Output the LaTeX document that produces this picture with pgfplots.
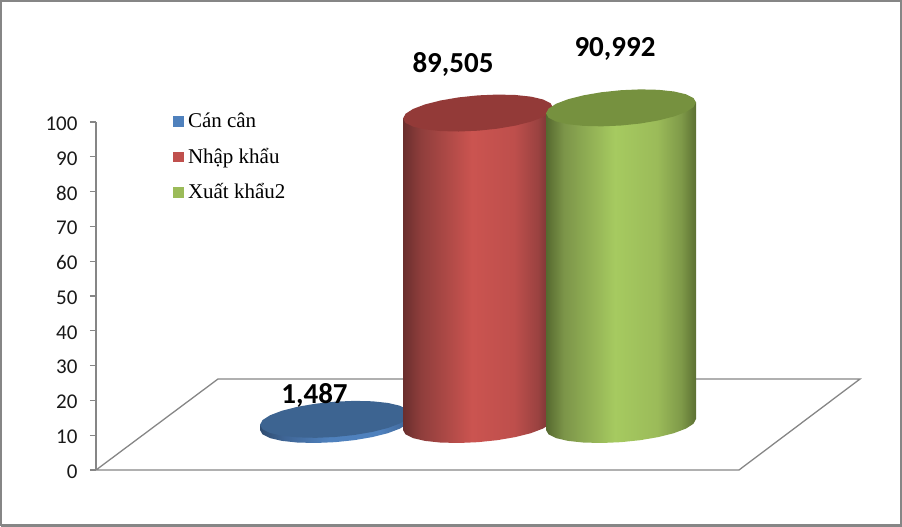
\documentclass[border=0pt]{standalone}
\usepackage{fontspec}
\usepackage{pgfplots}
\usepackage{pgfplotstable}
\pgfplotsset{compat=1.18}
\setmainfont{Carlito}
\newfontfamily\legendfont{Liberation Serif}

\definecolor{axisgray}{HTML}{868686}
\definecolor{bluetop}{HTML}{3D6491}
\definecolor{redtop}{HTML}{933A38}
\definecolor{greentop}{HTML}{76913F}
\definecolor{blue1}{HTML}{2F4C70}
\definecolor{blue2}{HTML}{3F6595}
\definecolor{blue3}{HTML}{4F81BD}
\definecolor{red1}{HTML}{6A2E2D}
\definecolor{red2}{HTML}{8F3E3C}
\definecolor{red3}{HTML}{CB5450}
\definecolor{red4}{HTML}{BE4F4C}
\definecolor{red5}{HTML}{9A4240}
\definecolor{red6}{HTML}{6E3130}
\definecolor{green1}{HTML}{56692F}
\definecolor{green2}{HTML}{7C9549}
\definecolor{green3}{HTML}{A6CA60}
\definecolor{green4}{HTML}{9BBB59}
\definecolor{green5}{HTML}{7F9A49}
\definecolor{green6}{HTML}{5C7032}
\definecolor{legblue}{HTML}{4F81BD}
\definecolor{legred}{HTML}{C0504D}
\definecolor{leggreen}{HTML}{9BBB59}

% 25bp..75bp of a pgf shading spans the path's bounding box
\pgfdeclarehorizontalshading{bluecyl}{100bp}{
  color(0bp)=(blue1); color(25bp)=(blue1); color(33bp)=(blue2);
  color(48bp)=(blue3); color(65bp)=(blue3); color(75bp)=(blue2); color(100bp)=(blue2)}
\pgfdeclarehorizontalshading{redcyl}{100bp}{
  color(0bp)=(red1); color(25bp)=(red1); color(31bp)=(red2);
  color(48bp)=(red3); color(62bp)=(red4); color(70bp)=(red5); color(75bp)=(red6); color(100bp)=(red6)}
\pgfdeclarehorizontalshading{greencyl}{100bp}{
  color(0bp)=(green1); color(25bp)=(green1); color(31bp)=(green2);
  color(48bp)=(green3); color(62bp)=(green4); color(70bp)=(green5); color(75bp)=(green6); color(100bp)=(green6)}

% end of a cylinder, offsets in pixels from its centre
\pgfplotstableread{
dx dy
75 5.5
72.44 9.88
64.95 13.59
53.03 16.38
37.5 18.04
19.41 18.48
0 17.66
-19.41 15.64
-37.5 12.54
-53.03 8.6
-64.95 4.07
-72.44 -0.74
-75 -5.5
-72.44 -9.88
-64.95 -13.59
-53.03 -16.38
-37.5 -18.04
-19.41 -18.48
0 -17.66
19.41 -15.64
37.5 -12.54
53.03 -8.6
64.95 -4.07
72.44 0.74
75 5.5
}\endcap

% side of a cylinder, h=1 marks the points at the top
\pgfplotstableread{
dx dy h
75 5.5 0
72.44 0.74 0
64.95 -4.07 0
53.03 -8.6 0
37.5 -12.54 0
19.41 -15.64 0
0 -17.66 0
-19.41 -18.48 0
-37.5 -18.04 0
-53.03 -16.38 0
-64.95 -13.59 0
-72.44 -9.88 0
-75 -5.5 0
-75 -5.5 1
75 5.5 1
}\sidewall

% centre x, value, shading, colour of the top
\newcommand{\cylinder}[4]{
  \addplot[forget plot, draw=none, shade, shading=#3]
    table[x expr=\thisrow{dx}+#1, y expr=13.07+\thisrow{h}*#2+\thisrow{dy}/3.48] {\sidewall};
  \addplot[forget plot, draw=none, fill=#4]
    table[x expr=\thisrow{dx}+#1, y expr=13.07+#2+\thisrow{dy}/3.48] {\endcap};
}

\begin{document}
\begin{tikzpicture}
\begin{axis}[
  scale only axis, width=764pt, height=348pt,
  xmin=96, xmax=860, ymin=0, ymax=100,
  clip=false,
  axis x line=none, axis y line*=left,
  y axis line style={axisgray, line width=1.4pt, -},
  ytick={0,10,...,100},
  tick align=outside, major tick length=6pt,
  tick style={axisgray, line width=1.2pt},
  /pgf/number format/assume math mode=true,
  yticklabel style={font=\fontsize{21}{24}\selectfont, color=black!90, xshift=-9pt, yshift=-1.5pt},
  legend style={
    draw=none, fill=none, at={(axis cs:173,102.3)}, anchor=north west,
    inner sep=0pt, outer sep=0pt, row sep=16.5pt,
    font=\legendfont\fontsize{21}{24}\selectfont,
    nodes={text height=14pt, text depth=5pt, inner sep=0pt},
    cells={anchor=west},
  },
  legend image code/.code={
    \path[draw=none, fill=none] (0pt,0pt) -- (15pt,0pt);
    \fill[#1, draw=none] (0pt,-3.4pt) rectangle (11pt,7pt);
  },
]
\addlegendimage{fill=legblue}
\addlegendentry{Cán cân}
\addlegendimage{fill=legred}
\addlegendentry{Nhập khẩu}
\addlegendimage{fill=leggreen}
\addlegendentry{Xuất khẩu2}

% chart frame
\addplot[forget plot, draw=axisgray, line width=2.5pt] coordinates {
  (1.25,-16.02) (900.75,-16.02) (900.75,134.70) (1.25,134.70) (1.25,-16.02)
};

% floor
\addplot[forget plot, draw=axisgray, line width=1.3pt] coordinates {
  (96,0) (218,26.15) (860,26.15) (739,0) (96,0)
};

\cylinder{335}{1.487}{bluecyl}{bluetop}
\cylinder{478}{89.505}{redcyl}{redtop}
\cylinder{621}{90.992}{greencyl}{greentop}

\node[anchor=base, font=\bfseries\fontsize{29}{32}\selectfont, inner sep=0pt] at (axis cs:314.5,19) {1,487};
\node[anchor=base, font=\bfseries\fontsize{29}{32}\selectfont, inner sep=0pt] at (axis cs:453,114.2) {89,505};
\node[anchor=base, font=\bfseries\fontsize{29}{32}\selectfont, inner sep=0pt] at (axis cs:615,118.7) {90,992};
\end{axis}
% page is exactly the 902x527 frame; the axis origin sits at pixel (96,470)
\pgfresetboundingbox
\path[use as bounding box] (-96pt,-57pt) rectangle (806pt,470pt);
\end{tikzpicture}
\end{document}
